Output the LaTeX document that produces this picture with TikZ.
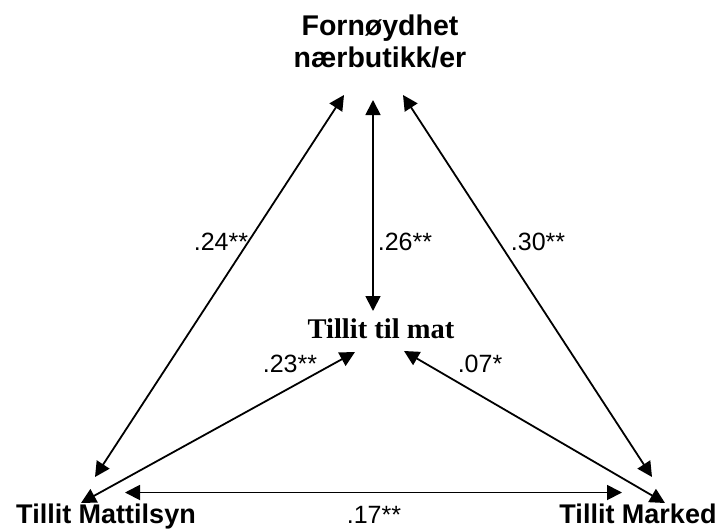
\documentclass[tikz,border=0pt]{standalone}
\usepackage{fontspec}
\setmainfont{Liberation Sans}
\newfontfamily\serifbf{Liberation Serif}
\usetikzlibrary{arrows.meta}
\tikzset{
  conn/.style={{Triangle[length=15pt,width=15pt]}-{Triangle[length=15pt,width=15pt]}, line width=1.8pt, black},
  title/.style={font=\fontsize{28.5}{32}\selectfont\bfseries, inner sep=0pt, align=center},
  varname/.style={font=\fontsize{27}{30}\selectfont\bfseries, inner sep=0pt},
  centre/.style={font=\fontsize{28.5}{32}\serifbf\bfseries, inner sep=0pt},
  coef/.style={font=\fontsize{25}{28}\selectfont, inner sep=0pt}
}
\begin{document}
\begin{tikzpicture}[x=1pt,y=-1pt]
\useasboundingbox (0,0) rectangle (717,531);
% nodes
\node[title, anchor=base] (forn) at (380,67) {Fornøydhet\\nærbutikk/er};
\node[centre, anchor=base] (mat) at (381,338) {Tillit til mat};
\node[varname, anchor=base] (mattilsyn) at (106,523) {Tillit Mattilsyn};
\node[varname, anchor=base] (marked) at (638,523) {Tillit Marked};
% arrow end points
\coordinate (fL) at (344,95);
\coordinate (fM) at (373,100);
\coordinate (fR) at (403,95);
\coordinate (mT) at (373,311);
\coordinate (mL) at (355,352);
\coordinate (mR) at (404,351);
\coordinate (aT) at (95,477);
\coordinate (aB) at (81,503);
\coordinate (aR) at (125,492.5);
\coordinate (bT) at (652,477);
\coordinate (bB) at (665,503);
\coordinate (bL) at (622,492.5);
% connectors
\draw[conn] (fL) -- (aT);
\draw[conn] (fM) -- (mT);
\draw[conn] (fR) -- (bT);
\draw[conn] (mL) -- (aB);
\draw[conn] (mR) -- (bB);
\draw[conn] (aR) -- (bL);
% coefficients
\node[coef, anchor=base] (c24) at (221,250) {.24**};
\node[coef, anchor=base] (c26) at (405,250) {.26**};
\node[coef, anchor=base] (c30) at (538,250) {.30**};
\node[coef, anchor=base] (c23) at (290,372) {.23**};
\node[coef, anchor=base] (c07) at (480,372) {.07*};
\node[coef, anchor=base] (c17) at (374,523) {.17**};
\end{tikzpicture}
\end{document}
